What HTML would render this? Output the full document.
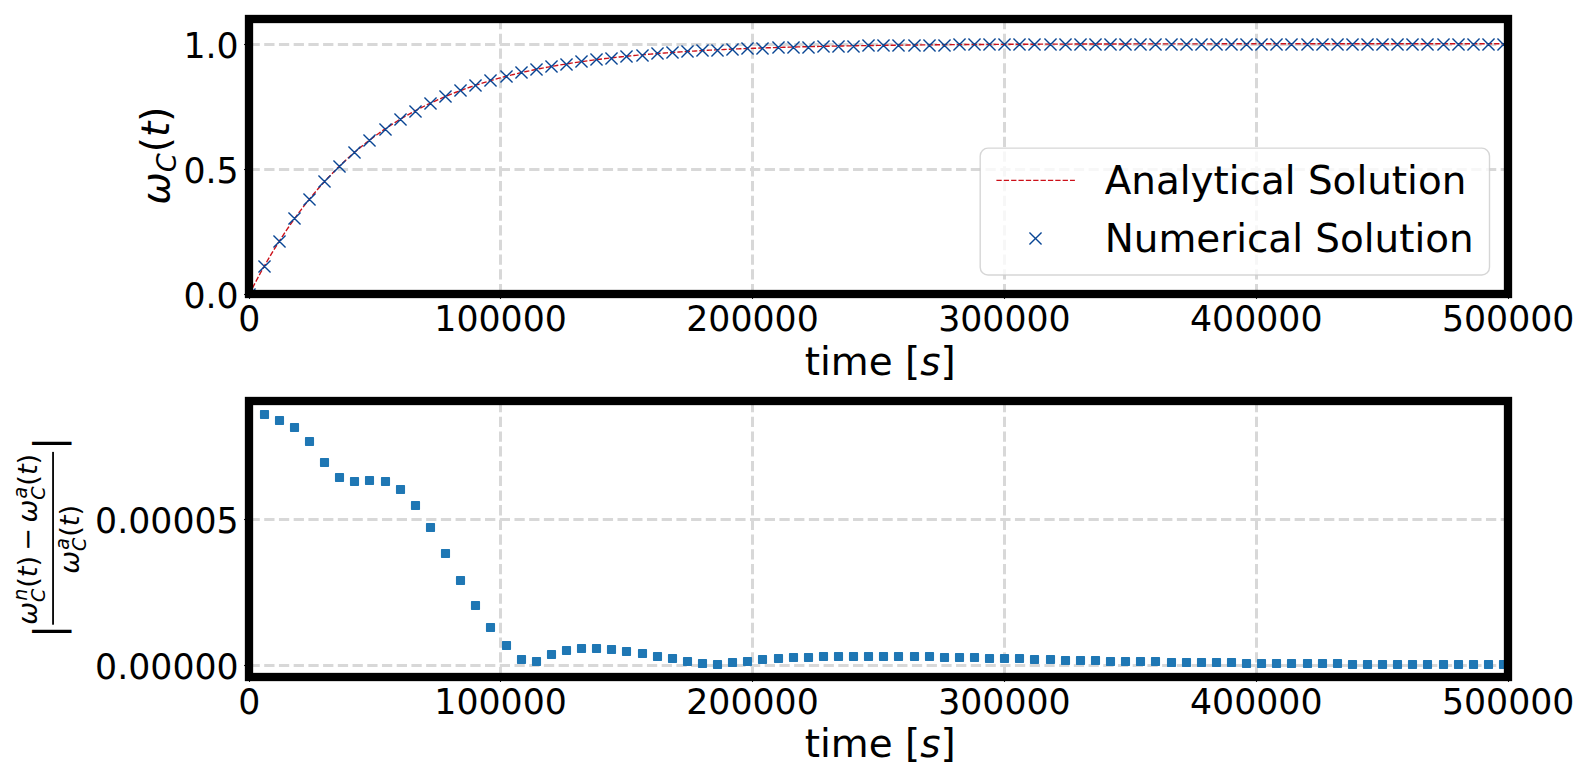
<!DOCTYPE html>
<html lang="en"><head><meta charset="utf-8"><title>Analytical vs numerical solution</title>
<style>html,body{margin:0;padding:0;background:#fff}body{width:1589px;height:780px;overflow:hidden}svg{display:block}text{font-family:"DejaVu Sans", "Liberation Sans", sans-serif;fill:#000}.i{font-style:oblique}</style>
</head><body>
<svg width="1589" height="780" viewBox="0 0 1589 780">
<defs><clipPath id="c1"><rect x="249" y="19" width="1259" height="275"/></clipPath><clipPath id="c2"><rect x="249" y="401" width="1259" height="276"/></clipPath></defs>
<rect width="1589" height="780" fill="#fff"/>
<g clip-path="url(#c1)" stroke="#d8d8d8" stroke-width="3" stroke-dasharray="10.28 4.44" fill="none">
<path d="M249.5 294.3 V19"/>
<path d="M500.5 294.3 V19"/>
<path d="M752.5 294.3 V19"/>
<path d="M1004.5 294.3 V19"/>
<path d="M1256.5 294.3 V19"/>
<path d="M1508.5 294.3 V19"/>
<path d="M249.5 44.5 H1508"/>
<path d="M249.5 169.5 H1508"/>
<path d="M249.5 294.5 H1508"/>
</g>
<path clip-path="url(#c1)" d="M249.09 294.65 L250.88 291.09 L252.68 287.58 L254.48 284.13 L256.28 280.72 L258.08 277.36 L259.88 274.04 L261.68 270.78 L263.48 267.56 L265.28 264.38 L267.08 261.25 L268.88 258.17 L270.68 255.13 L272.47 252.13 L274.27 249.17 L276.07 246.26 L277.87 243.39 L279.67 240.56 L281.47 237.77 L283.27 235.01 L285.07 232.30 L286.87 229.63 L288.67 226.99 L290.47 224.39 L292.27 221.83 L294.07 219.30 L295.86 216.81 L297.66 214.36 L299.46 211.94 L301.26 209.55 L303.06 207.20 L304.86 204.88 L306.66 202.60 L308.46 200.35 L310.26 198.12 L312.06 195.93 L313.86 193.78 L315.66 191.65 L317.46 189.55 L319.25 187.48 L321.05 185.44 L322.85 183.43 L324.65 181.45 L326.45 179.50 L328.25 177.57 L330.05 175.68 L331.85 173.80 L333.65 171.96 L335.45 170.14 L337.25 168.35 L339.05 166.58 L340.85 164.84 L342.64 163.12 L344.44 161.43 L346.24 159.76 L348.04 158.11 L349.84 156.49 L351.64 154.89 L353.44 153.31 L355.24 151.76 L357.04 150.23 L358.84 148.72 L360.64 147.23 L362.44 145.76 L364.24 144.31 L366.03 142.89 L367.83 141.48 L369.63 140.09 L371.43 138.73 L373.23 137.38 L375.03 136.05 L376.83 134.74 L378.63 133.45 L380.43 132.18 L382.23 130.92 L384.03 129.69 L385.83 128.47 L387.63 127.27 L389.42 126.08 L391.22 124.91 L393.02 123.76 L394.82 122.63 L396.62 121.51 L398.42 120.40 L400.22 119.32 L402.02 118.24 L403.82 117.19 L405.62 116.14 L407.42 115.12 L409.22 114.10 L411.02 113.11 L412.81 112.12 L414.61 111.15 L416.41 110.20 L418.21 109.25 L420.01 108.32 L421.81 107.41 L423.61 106.50 L425.41 105.61 L427.21 104.74 L429.01 103.87 L430.81 103.02 L432.61 102.18 L434.41 101.35 L436.20 100.53 L438.00 99.72 L439.80 98.93 L441.60 98.15 L443.40 97.37 L445.20 96.61 L447.00 95.86 L448.80 95.12 L450.60 94.39 L452.40 93.67 L454.20 92.97 L456.00 92.27 L457.80 91.58 L459.59 90.90 L461.39 90.23 L463.19 89.57 L464.99 88.92 L466.79 88.28 L468.59 87.65 L470.39 87.02 L472.19 86.41 L473.99 85.80 L475.79 85.21 L477.59 84.62 L479.39 84.04 L481.19 83.47 L482.98 82.90 L484.78 82.35 L486.58 81.80 L488.38 81.26 L490.18 80.73 L491.98 80.20 L493.78 79.68 L495.58 79.17 L497.38 78.67 L499.18 78.17 L500.98 77.69 L502.78 77.20 L504.58 76.73 L506.37 76.26 L508.17 75.80 L509.97 75.34 L511.77 74.89 L513.57 74.45 L515.37 74.02 L517.17 73.59 L518.97 73.16 L520.77 72.74 L522.57 72.33 L524.37 71.93 L526.17 71.53 L527.97 71.13 L529.76 70.74 L531.56 70.36 L533.36 69.98 L535.16 69.61 L536.96 69.24 L538.76 68.88 L540.56 68.52 L542.36 68.17 L544.16 67.82 L545.96 67.48 L547.76 67.14 L549.56 66.81 L551.36 66.48 L553.15 66.16 L554.95 65.84 L556.75 65.53 L558.55 65.22 L560.35 64.91 L562.15 64.61 L563.95 64.32 L565.75 64.02 L567.55 63.74 L569.35 63.45 L571.15 63.17 L572.95 62.90 L574.74 62.62 L576.54 62.36 L578.34 62.09 L580.14 61.83 L581.94 61.57 L583.74 61.32 L585.54 61.07 L587.34 60.82 L589.14 60.58 L590.94 60.34 L592.74 60.11 L594.54 59.87 L596.34 59.64 L598.13 59.42 L599.93 59.19 L601.73 58.97 L603.53 58.76 L605.33 58.54 L607.13 58.33 L608.93 58.13 L610.73 57.92 L612.53 57.72 L614.33 57.52 L616.13 57.33 L617.93 57.13 L619.73 56.94 L621.52 56.75 L623.32 56.57 L625.12 56.39 L626.92 56.21 L628.72 56.03 L630.52 55.85 L632.32 55.68 L634.12 55.51 L635.92 55.34 L637.72 55.18 L639.52 55.02 L641.32 54.86 L643.12 54.70 L644.91 54.54 L646.71 54.39 L648.51 54.24 L650.31 54.09 L652.11 53.94 L653.91 53.80 L655.71 53.65 L657.51 53.51 L659.31 53.37 L661.11 53.23 L662.91 53.10 L664.71 52.97 L666.51 52.83 L668.30 52.71 L670.10 52.58 L671.90 52.45 L673.70 52.33 L675.50 52.21 L677.30 52.08 L679.10 51.97 L680.90 51.85 L682.70 51.73 L684.50 51.62 L686.30 51.51 L688.10 51.40 L689.90 51.29 L691.69 51.18 L693.49 51.07 L695.29 50.97 L697.09 50.87 L698.89 50.76 L700.69 50.66 L702.49 50.57 L704.29 50.47 L706.09 50.37 L707.89 50.28 L709.69 50.18 L711.49 50.09 L713.29 50.00 L715.08 49.91 L716.88 49.82 L718.68 49.74 L720.48 49.65 L722.28 49.57 L724.08 49.48 L725.88 49.40 L727.68 49.32 L729.48 49.24 L731.28 49.16 L733.08 49.09 L734.88 49.01 L736.68 48.93 L738.47 48.86 L740.27 48.79 L742.07 48.71 L743.87 48.64 L745.67 48.57 L747.47 48.50 L749.27 48.44 L751.07 48.37 L752.87 48.30 L754.67 48.24 L756.47 48.17 L758.27 48.11 L760.07 48.05 L761.86 47.99 L763.66 47.92 L765.46 47.86 L767.26 47.81 L769.06 47.75 L770.86 47.69 L772.66 47.63 L774.46 47.58 L776.26 47.52 L778.06 47.47 L779.86 47.42 L781.66 47.36 L783.46 47.31 L785.25 47.26 L787.05 47.21 L788.85 47.16 L790.65 47.11 L792.45 47.06 L794.25 47.01 L796.05 46.97 L797.85 46.92 L799.65 46.88 L801.45 46.83 L803.25 46.79 L805.05 46.74 L806.85 46.70 L808.64 46.66 L810.44 46.61 L812.24 46.57 L814.04 46.53 L815.84 46.49 L817.64 46.45 L819.44 46.41 L821.24 46.37 L823.04 46.34 L824.84 46.30 L826.64 46.26 L828.44 46.23 L830.24 46.19 L832.03 46.16 L833.83 46.12 L835.63 46.09 L837.43 46.05 L839.23 46.02 L841.03 45.99 L842.83 45.95 L844.63 45.92 L846.43 45.89 L848.23 45.86 L850.03 45.83 L851.83 45.80 L853.62 45.77 L855.42 45.74 L857.22 45.71 L859.02 45.68 L860.82 45.65 L862.62 45.63 L864.42 45.60 L866.22 45.57 L868.02 45.55 L869.82 45.52 L871.62 45.49 L873.42 45.47 L875.22 45.44 L877.01 45.42 L878.81 45.39 L880.61 45.37 L882.41 45.35 L884.21 45.32 L886.01 45.30 L887.81 45.28 L889.61 45.25 L891.41 45.23 L893.21 45.21 L895.01 45.19 L896.81 45.17 L898.61 45.15 L900.40 45.13 L902.20 45.11 L904.00 45.09 L905.80 45.07 L907.60 45.05 L909.40 45.03 L911.20 45.01 L913.00 44.99 L914.80 44.97 L916.60 44.95 L918.40 44.94 L920.20 44.92 L922.00 44.90 L923.79 44.89 L925.59 44.87 L927.39 44.85 L929.19 44.84 L930.99 44.82 L932.79 44.80 L934.59 44.79 L936.39 44.77 L938.19 44.76 L939.99 44.74 L941.79 44.73 L943.59 44.71 L945.39 44.70 L947.18 44.68 L948.98 44.67 L950.78 44.66 L952.58 44.64 L954.38 44.63 L956.18 44.62 L957.98 44.60 L959.78 44.59 L961.58 44.58 L963.38 44.57 L965.18 44.55 L966.98 44.54 L968.78 44.53 L970.57 44.52 L972.37 44.51 L974.17 44.49 L975.97 44.48 L977.77 44.47 L979.57 44.46 L981.37 44.45 L983.17 44.44 L984.97 44.43 L986.77 44.42 L988.57 44.41 L990.37 44.40 L992.17 44.39 L993.96 44.38 L995.76 44.37 L997.56 44.36 L999.36 44.35 L1001.16 44.34 L1002.96 44.33 L1004.76 44.32 L1006.56 44.31 L1008.36 44.31 L1010.16 44.30 L1011.96 44.29 L1013.76 44.28 L1015.56 44.27 L1017.35 44.26 L1019.15 44.26 L1020.95 44.25 L1022.75 44.24 L1024.55 44.23 L1026.35 44.23 L1028.15 44.22 L1029.95 44.21 L1031.75 44.20 L1033.55 44.20 L1035.35 44.19 L1037.15 44.18 L1038.95 44.18 L1040.74 44.17 L1042.54 44.16 L1044.34 44.16 L1046.14 44.15 L1047.94 44.14 L1049.74 44.14 L1051.54 44.13 L1053.34 44.12 L1055.14 44.12 L1056.94 44.11 L1058.74 44.11 L1060.54 44.10 L1062.34 44.09 L1064.13 44.09 L1065.93 44.08 L1067.73 44.08 L1069.53 44.07 L1071.33 44.07 L1073.13 44.06 L1074.93 44.06 L1076.73 44.05 L1078.53 44.05 L1080.33 44.04 L1082.13 44.04 L1083.93 44.03 L1085.73 44.03 L1087.52 44.02 L1089.32 44.02 L1091.12 44.01 L1092.92 44.01 L1094.72 44.01 L1096.52 44.00 L1098.32 44.00 L1100.12 43.99 L1101.92 43.99 L1103.72 43.98 L1105.52 43.98 L1107.32 43.98 L1109.12 43.97 L1110.91 43.97 L1112.71 43.96 L1114.51 43.96 L1116.31 43.96 L1118.11 43.95 L1119.91 43.95 L1121.71 43.95 L1123.51 43.94 L1125.31 43.94 L1127.11 43.94 L1128.91 43.93 L1130.71 43.93 L1132.51 43.93 L1134.30 43.92 L1136.10 43.92 L1137.90 43.92 L1139.70 43.91 L1141.50 43.91 L1143.30 43.91 L1145.10 43.90 L1146.90 43.90 L1148.70 43.90 L1150.50 43.90 L1152.30 43.89 L1154.10 43.89 L1155.89 43.89 L1157.69 43.89 L1159.49 43.88 L1161.29 43.88 L1163.09 43.88 L1164.89 43.87 L1166.69 43.87 L1168.49 43.87 L1170.29 43.87 L1172.09 43.87 L1173.89 43.86 L1175.69 43.86 L1177.49 43.86 L1179.28 43.86 L1181.08 43.85 L1182.88 43.85 L1184.68 43.85 L1186.48 43.85 L1188.28 43.85 L1190.08 43.84 L1191.88 43.84 L1193.68 43.84 L1195.48 43.84 L1197.28 43.84 L1199.08 43.83 L1200.88 43.83 L1202.67 43.83 L1204.47 43.83 L1206.27 43.83 L1208.07 43.82 L1209.87 43.82 L1211.67 43.82 L1213.47 43.82 L1215.27 43.82 L1217.07 43.82 L1218.87 43.81 L1220.67 43.81 L1222.47 43.81 L1224.27 43.81 L1226.06 43.81 L1227.86 43.81 L1229.66 43.80 L1231.46 43.80 L1233.26 43.80 L1235.06 43.80 L1236.86 43.80 L1238.66 43.80 L1240.46 43.80 L1242.26 43.79 L1244.06 43.79 L1245.86 43.79 L1247.66 43.79 L1249.45 43.79 L1251.25 43.79 L1253.05 43.79 L1254.85 43.79 L1256.65 43.78 L1258.45 43.78 L1260.25 43.78 L1262.05 43.78 L1263.85 43.78 L1265.65 43.78 L1267.45 43.78 L1269.25 43.78 L1271.05 43.78 L1272.84 43.77 L1274.64 43.77 L1276.44 43.77 L1278.24 43.77 L1280.04 43.77 L1281.84 43.77 L1283.64 43.77 L1285.44 43.77 L1287.24 43.77 L1289.04 43.77 L1290.84 43.76 L1292.64 43.76 L1294.44 43.76 L1296.23 43.76 L1298.03 43.76 L1299.83 43.76 L1301.63 43.76 L1303.43 43.76 L1305.23 43.76 L1307.03 43.76 L1308.83 43.76 L1310.63 43.75 L1312.43 43.75 L1314.23 43.75 L1316.03 43.75 L1317.83 43.75 L1319.62 43.75 L1321.42 43.75 L1323.22 43.75 L1325.02 43.75 L1326.82 43.75 L1328.62 43.75 L1330.42 43.75 L1332.22 43.75 L1334.02 43.75 L1335.82 43.75 L1337.62 43.74 L1339.42 43.74 L1341.22 43.74 L1343.01 43.74 L1344.81 43.74 L1346.61 43.74 L1348.41 43.74 L1350.21 43.74 L1352.01 43.74 L1353.81 43.74 L1355.61 43.74 L1357.41 43.74 L1359.21 43.74 L1361.01 43.74 L1362.81 43.74 L1364.61 43.74 L1366.40 43.74 L1368.20 43.73 L1370.00 43.73 L1371.80 43.73 L1373.60 43.73 L1375.40 43.73 L1377.20 43.73 L1379.00 43.73 L1380.80 43.73 L1382.60 43.73 L1384.40 43.73 L1386.20 43.73 L1388.00 43.73 L1389.79 43.73 L1391.59 43.73 L1393.39 43.73 L1395.19 43.73 L1396.99 43.73 L1398.79 43.73 L1400.59 43.73 L1402.39 43.73 L1404.19 43.73 L1405.99 43.73 L1407.79 43.73 L1409.59 43.73 L1411.39 43.72 L1413.18 43.72 L1414.98 43.72 L1416.78 43.72 L1418.58 43.72 L1420.38 43.72 L1422.18 43.72 L1423.98 43.72 L1425.78 43.72 L1427.58 43.72 L1429.38 43.72 L1431.18 43.72 L1432.98 43.72 L1434.78 43.72 L1436.57 43.72 L1438.37 43.72 L1440.17 43.72 L1441.97 43.72 L1443.77 43.72 L1445.57 43.72 L1447.37 43.72 L1449.17 43.72 L1450.97 43.72 L1452.77 43.72 L1454.57 43.72 L1456.37 43.72 L1458.16 43.72 L1459.96 43.72 L1461.76 43.72 L1463.56 43.72 L1465.36 43.72 L1467.16 43.72 L1468.96 43.72 L1470.76 43.72 L1472.56 43.72 L1474.36 43.71 L1476.16 43.71 L1477.96 43.71 L1479.76 43.71 L1481.55 43.71 L1483.35 43.71 L1485.15 43.71 L1486.95 43.71 L1488.75 43.71 L1490.55 43.71 L1492.35 43.71 L1494.15 43.71 L1495.95 43.71 L1497.75 43.71 L1499.55 43.71 L1501.35 43.71 L1503.15 43.71 L1504.94 43.71 L1506.74 43.71 L1508.54 43.71" fill="none" stroke="#cc1019" stroke-width="1.39" stroke-dasharray="5.3 2.06"/>
<path clip-path="url(#c1)" d="M243.95 288.95l11.1 11.1m-11.1 0l11.1 -11.1M258.95 260.95l11.1 11.1m-11.1 0l11.1 -11.1M273.95 235.95l11.1 11.1m-11.1 0l11.1 -11.1M288.95 212.95l11.1 11.1m-11.1 0l11.1 -11.1M303.95 193.95l11.1 11.1m-11.1 0l11.1 -11.1M318.95 175.95l11.1 11.1m-11.1 0l11.1 -11.1M333.95 160.95l11.1 11.1m-11.1 0l11.1 -11.1M348.95 146.95l11.1 11.1m-11.1 0l11.1 -11.1M363.95 134.95l11.1 11.1m-11.1 0l11.1 -11.1M379.95 123.95l11.1 11.1m-11.1 0l11.1 -11.1M394.95 113.95l11.1 11.1m-11.1 0l11.1 -11.1M409.95 105.95l11.1 11.1m-11.1 0l11.1 -11.1M424.95 97.95l11.1 11.1m-11.1 0l11.1 -11.1M439.95 90.95l11.1 11.1m-11.1 0l11.1 -11.1M454.95 84.95l11.1 11.1m-11.1 0l11.1 -11.1M469.95 79.95l11.1 11.1m-11.1 0l11.1 -11.1M484.95 74.95l11.1 11.1m-11.1 0l11.1 -11.1M500.95 70.95l11.1 11.1m-11.1 0l11.1 -11.1M515.95 66.95l11.1 11.1m-11.1 0l11.1 -11.1M530.95 63.95l11.1 11.1m-11.1 0l11.1 -11.1M545.95 60.95l11.1 11.1m-11.1 0l11.1 -11.1M560.95 58.95l11.1 11.1m-11.1 0l11.1 -11.1M575.95 55.95l11.1 11.1m-11.1 0l11.1 -11.1M590.95 53.95l11.1 11.1m-11.1 0l11.1 -11.1M605.95 52.95l11.1 11.1m-11.1 0l11.1 -11.1M620.95 50.95l11.1 11.1m-11.1 0l11.1 -11.1M636.95 49.95l11.1 11.1m-11.1 0l11.1 -11.1M651.95 47.95l11.1 11.1m-11.1 0l11.1 -11.1M666.95 46.95l11.1 11.1m-11.1 0l11.1 -11.1M681.95 45.95l11.1 11.1m-11.1 0l11.1 -11.1M696.95 44.95l11.1 11.1m-11.1 0l11.1 -11.1M711.95 44.95l11.1 11.1m-11.1 0l11.1 -11.1M726.95 43.95l11.1 11.1m-11.1 0l11.1 -11.1M741.95 42.95l11.1 11.1m-11.1 0l11.1 -11.1M756.95 42.95l11.1 11.1m-11.1 0l11.1 -11.1M772.95 41.95l11.1 11.1m-11.1 0l11.1 -11.1M787.95 41.95l11.1 11.1m-11.1 0l11.1 -11.1M802.95 41.95l11.1 11.1m-11.1 0l11.1 -11.1M817.95 40.95l11.1 11.1m-11.1 0l11.1 -11.1M832.95 40.95l11.1 11.1m-11.1 0l11.1 -11.1M847.95 40.95l11.1 11.1m-11.1 0l11.1 -11.1M862.95 39.95l11.1 11.1m-11.1 0l11.1 -11.1M877.95 39.95l11.1 11.1m-11.1 0l11.1 -11.1M892.95 39.95l11.1 11.1m-11.1 0l11.1 -11.1M908.95 39.95l11.1 11.1m-11.1 0l11.1 -11.1M923.95 39.95l11.1 11.1m-11.1 0l11.1 -11.1M938.95 39.95l11.1 11.1m-11.1 0l11.1 -11.1M953.95 38.95l11.1 11.1m-11.1 0l11.1 -11.1M968.95 38.95l11.1 11.1m-11.1 0l11.1 -11.1M983.95 38.95l11.1 11.1m-11.1 0l11.1 -11.1M998.95 38.95l11.1 11.1m-11.1 0l11.1 -11.1M1013.95 38.95l11.1 11.1m-11.1 0l11.1 -11.1M1028.95 38.95l11.1 11.1m-11.1 0l11.1 -11.1M1044.95 38.95l11.1 11.1m-11.1 0l11.1 -11.1M1059.95 38.95l11.1 11.1m-11.1 0l11.1 -11.1M1074.95 38.95l11.1 11.1m-11.1 0l11.1 -11.1M1089.95 38.95l11.1 11.1m-11.1 0l11.1 -11.1M1104.95 38.95l11.1 11.1m-11.1 0l11.1 -11.1M1119.95 38.95l11.1 11.1m-11.1 0l11.1 -11.1M1134.95 38.95l11.1 11.1m-11.1 0l11.1 -11.1M1149.95 38.95l11.1 11.1m-11.1 0l11.1 -11.1M1165.95 38.95l11.1 11.1m-11.1 0l11.1 -11.1M1180.95 38.95l11.1 11.1m-11.1 0l11.1 -11.1M1195.95 38.95l11.1 11.1m-11.1 0l11.1 -11.1M1210.95 38.95l11.1 11.1m-11.1 0l11.1 -11.1M1225.95 38.95l11.1 11.1m-11.1 0l11.1 -11.1M1240.95 38.95l11.1 11.1m-11.1 0l11.1 -11.1M1255.95 38.95l11.1 11.1m-11.1 0l11.1 -11.1M1270.95 38.95l11.1 11.1m-11.1 0l11.1 -11.1M1285.95 38.95l11.1 11.1m-11.1 0l11.1 -11.1M1301.95 38.95l11.1 11.1m-11.1 0l11.1 -11.1M1316.95 38.95l11.1 11.1m-11.1 0l11.1 -11.1M1331.95 38.95l11.1 11.1m-11.1 0l11.1 -11.1M1346.95 38.95l11.1 11.1m-11.1 0l11.1 -11.1M1361.95 38.95l11.1 11.1m-11.1 0l11.1 -11.1M1376.95 38.95l11.1 11.1m-11.1 0l11.1 -11.1M1391.95 38.95l11.1 11.1m-11.1 0l11.1 -11.1M1406.95 38.95l11.1 11.1m-11.1 0l11.1 -11.1M1421.95 38.95l11.1 11.1m-11.1 0l11.1 -11.1M1437.95 38.95l11.1 11.1m-11.1 0l11.1 -11.1M1452.95 38.95l11.1 11.1m-11.1 0l11.1 -11.1M1467.95 38.95l11.1 11.1m-11.1 0l11.1 -11.1M1482.95 38.95l11.1 11.1m-11.1 0l11.1 -11.1M1497.95 38.95l11.1 11.1m-11.1 0l11.1 -11.1" fill="none" stroke="#084594" stroke-width="1.39" stroke-linecap="square"/>
<g stroke="#000" stroke-width="1.1" fill="none">
<path d="M249.5 294 v4.9"/>
<path d="M500.5 294 v4.9"/>
<path d="M752.5 294 v4.9"/>
<path d="M1004.5 294 v4.9"/>
<path d="M1256.5 294 v4.9"/>
<path d="M1508.5 294 v4.9"/>
<path d="M249 44.5 h-4.9"/>
<path d="M249 169.5 h-4.9"/>
<path d="M249 294.5 h-4.9"/>
</g>
<rect x="249" y="19" width="1259" height="275" fill="none" stroke="#000" stroke-width="8.3"/>
<rect x="980.2" y="148.1" width="509.3" height="126.9" rx="7.8" ry="7.8" fill="#fff" fill-opacity="0.8" stroke="#ccc" stroke-opacity="0.8" stroke-width="1.39"/>
<path d="M996.4 180.4H1074.9" fill="none" stroke="#cc1019" stroke-width="1.39" stroke-dasharray="5.3 2.06"/>
<path d="M1029.95 232.95l11.1 11.1m-11.1 0l11.1 -11.1" fill="none" stroke="#084594" stroke-width="1.39" stroke-linecap="square"/>
<text x="1104.7" y="193.9" font-size="38.89">Analytical Solution</text>
<text x="1104.7" y="251.9" font-size="38.89">Numerical Solution</text>
<text x="249.185" y="331" font-size="34.72" text-anchor="middle">0</text>
<text x="500.627" y="331" font-size="34.72" text-anchor="middle">100000</text>
<text x="752.518" y="331" font-size="34.72" text-anchor="middle">200000</text>
<text x="1004.41" y="331" font-size="34.72" text-anchor="middle">300000</text>
<text x="1256.3" y="331" font-size="34.72" text-anchor="middle">400000</text>
<text x="1508.19" y="331" font-size="34.72" text-anchor="middle">500000</text>
<text x="238.7" y="57.9" font-size="34.72" text-anchor="end">1.0</text>
<text x="238.7" y="183" font-size="34.72" text-anchor="end">0.5</text>
<text x="238.7" y="308.1" font-size="34.72" text-anchor="end">0.0</text>
<text y="374.9" font-size="38.89"><tspan x="804.8">time [</tspan><tspan class="i" x="920.15">s</tspan><tspan x="940.41">]</tspan></text>
<g transform="translate(169.1 204.8) rotate(-90)">
<text font-size="38.89"><tspan class="i" x="0" y="0">ω</tspan><tspan class="i" x="32.55" y="6.4" font-size="27.22">C</tspan><tspan x="52.62" y="0">(</tspan><tspan class="i" x="67.79" y="0">t</tspan><tspan x="83.03" y="0">)</tspan></text>
</g>
<g clip-path="url(#c2)" stroke="#d8d8d8" stroke-width="3" stroke-dasharray="10.28 4.44" fill="none">
<path d="M249.5 677.3 V401"/>
<path d="M500.5 677.3 V401"/>
<path d="M752.5 677.3 V401"/>
<path d="M1004.5 677.3 V401"/>
<path d="M1256.5 677.3 V401"/>
<path d="M1508.5 677.3 V401"/>
<path d="M249.5 519.5 H1508"/>
<path d="M249.5 665.5 H1508"/>
</g>
<path clip-path="url(#c2)" d="M260.65 410.65h7.7v7.7h-7.7zM275.65 416.65h7.7v7.7h-7.7zM290.65 423.65h7.7v7.7h-7.7zM305.65 437.65h7.7v7.7h-7.7zM320.65 458.65h7.7v7.7h-7.7zM335.65 473.65h7.7v7.7h-7.7zM350.65 477.65h7.7v7.7h-7.7zM365.65 476.65h7.7v7.7h-7.7zM381.65 477.65h7.7v7.7h-7.7zM396.65 485.65h7.7v7.7h-7.7zM411.65 501.65h7.7v7.7h-7.7zM426.65 523.65h7.7v7.7h-7.7zM441.65 549.65h7.7v7.7h-7.7zM456.65 576.65h7.7v7.7h-7.7zM471.65 601.65h7.7v7.7h-7.7zM486.65 623.65h7.7v7.7h-7.7zM502.65 641.65h7.7v7.7h-7.7zM517.65 655.65h7.7v7.7h-7.7zM532.65 657.65h7.7v7.7h-7.7zM547.65 650.65h7.7v7.7h-7.7zM562.65 646.65h7.7v7.7h-7.7zM577.65 644.65h7.7v7.7h-7.7zM592.65 644.65h7.7v7.7h-7.7zM607.65 645.65h7.7v7.7h-7.7zM622.65 647.65h7.7v7.7h-7.7zM638.65 649.65h7.7v7.7h-7.7zM653.65 652.65h7.7v7.7h-7.7zM668.65 654.65h7.7v7.7h-7.7zM683.65 657.65h7.7v7.7h-7.7zM698.65 659.65h7.7v7.7h-7.7zM713.65 660.65h7.7v7.7h-7.7zM728.65 658.65h7.7v7.7h-7.7zM743.65 657.65h7.7v7.7h-7.7zM758.65 655.65h7.7v7.7h-7.7zM774.65 654.65h7.7v7.7h-7.7zM789.65 653.65h7.7v7.7h-7.7zM804.65 653.65h7.7v7.7h-7.7zM819.65 652.65h7.7v7.7h-7.7zM834.65 652.65h7.7v7.7h-7.7zM849.65 652.65h7.7v7.7h-7.7zM864.65 652.65h7.7v7.7h-7.7zM879.65 652.65h7.7v7.7h-7.7zM894.65 652.65h7.7v7.7h-7.7zM910.65 652.65h7.7v7.7h-7.7zM925.65 652.65h7.7v7.7h-7.7zM940.65 653.65h7.7v7.7h-7.7zM955.65 653.65h7.7v7.7h-7.7zM970.65 653.65h7.7v7.7h-7.7zM985.65 654.65h7.7v7.7h-7.7zM1000.65 654.65h7.7v7.7h-7.7zM1015.65 654.65h7.7v7.7h-7.7zM1030.65 655.65h7.7v7.7h-7.7zM1046.65 655.65h7.7v7.7h-7.7zM1061.65 656.65h7.7v7.7h-7.7zM1076.65 656.65h7.7v7.7h-7.7zM1091.65 656.65h7.7v7.7h-7.7zM1106.65 657.65h7.7v7.7h-7.7zM1121.65 657.65h7.7v7.7h-7.7zM1136.65 657.65h7.7v7.7h-7.7zM1151.65 657.65h7.7v7.7h-7.7zM1167.65 658.65h7.7v7.7h-7.7zM1182.65 658.65h7.7v7.7h-7.7zM1197.65 658.65h7.7v7.7h-7.7zM1212.65 658.65h7.7v7.7h-7.7zM1227.65 658.65h7.7v7.7h-7.7zM1242.65 659.65h7.7v7.7h-7.7zM1257.65 659.65h7.7v7.7h-7.7zM1272.65 659.65h7.7v7.7h-7.7zM1287.65 659.65h7.7v7.7h-7.7zM1303.65 659.65h7.7v7.7h-7.7zM1318.65 659.65h7.7v7.7h-7.7zM1333.65 659.65h7.7v7.7h-7.7zM1348.65 660.65h7.7v7.7h-7.7zM1363.65 660.65h7.7v7.7h-7.7zM1378.65 660.65h7.7v7.7h-7.7zM1393.65 660.65h7.7v7.7h-7.7zM1408.65 660.65h7.7v7.7h-7.7zM1423.65 660.65h7.7v7.7h-7.7zM1439.65 660.65h7.7v7.7h-7.7zM1454.65 660.65h7.7v7.7h-7.7zM1469.65 660.65h7.7v7.7h-7.7zM1484.65 660.65h7.7v7.7h-7.7zM1499.65 660.65h7.7v7.7h-7.7z" fill="#1f77b4" stroke="#1f77b4" stroke-width="1.4" stroke-linejoin="round"/>
<g stroke="#000" stroke-width="1.1" fill="none">
<path d="M249.5 677 v4.9"/>
<path d="M500.5 677 v4.9"/>
<path d="M752.5 677 v4.9"/>
<path d="M1004.5 677 v4.9"/>
<path d="M1256.5 677 v4.9"/>
<path d="M1508.5 677 v4.9"/>
<path d="M249 519.5 h-4.9"/>
<path d="M249 665.5 h-4.9"/>
</g>
<rect x="249" y="401" width="1259" height="276" fill="none" stroke="#000" stroke-width="8.3"/>
<text x="249.185" y="713.9" font-size="34.72" text-anchor="middle">0</text>
<text x="500.627" y="713.9" font-size="34.72" text-anchor="middle">100000</text>
<text x="752.518" y="713.9" font-size="34.72" text-anchor="middle">200000</text>
<text x="1004.41" y="713.9" font-size="34.72" text-anchor="middle">300000</text>
<text x="1256.3" y="713.9" font-size="34.72" text-anchor="middle">400000</text>
<text x="1508.19" y="713.9" font-size="34.72" text-anchor="middle">500000</text>
<text x="238.7" y="532.7" font-size="34.72" text-anchor="end">0.00005</text>
<text x="238.7" y="678.6" font-size="34.72" text-anchor="end">0.00000</text>
<text y="756.8" font-size="38.89"><tspan x="804.8">time [</tspan><tspan class="i" x="920.15">s</tspan><tspan x="940.41">]</tspan></text>
<g transform="translate(0 624.7) rotate(-90)">
<rect x="0" y="52.15" width="172.8" height="1.8" fill="#000"/>
<text font-size="27.22"><tspan class="i" x="0" y="37.1">ω</tspan><tspan class="i" font-size="19.06" x="24.01" y="26.65">n</tspan><tspan class="i" font-size="19.06" x="22.79" y="44.57">C</tspan><tspan x="36.83" y="37.1">(</tspan><tspan class="i" x="47.45" y="37.1">t</tspan><tspan x="58.12" y="37.1">)</tspan><tspan x="74.04" y="37.1">−</tspan><tspan class="i" x="102.14" y="37.1">ω</tspan><tspan class="i" font-size="19.06" x="126.15" y="26.65">a</tspan><tspan class="i" font-size="19.06" x="124.93" y="44.57">C</tspan><tspan x="138.98" y="37.1">(</tspan><tspan class="i" x="149.59" y="37.1">t</tspan><tspan x="160.26" y="37.1">)</tspan><tspan class="i" x="51" y="79">ω</tspan><tspan class="i" font-size="19.06" x="75.01" y="68.55">a</tspan><tspan class="i" font-size="19.06" x="73.79" y="86.47">C</tspan><tspan x="87.83" y="79">(</tspan><tspan class="i" x="98.45" y="79">t</tspan><tspan x="109.12" y="79">)</tspan></text>
<text font-size="38.89"><tspan x="-13.4" y="62.0">|</tspan><tspan x="174.6" y="62.0">|</tspan></text>
</g>
</svg>
</body></html>
